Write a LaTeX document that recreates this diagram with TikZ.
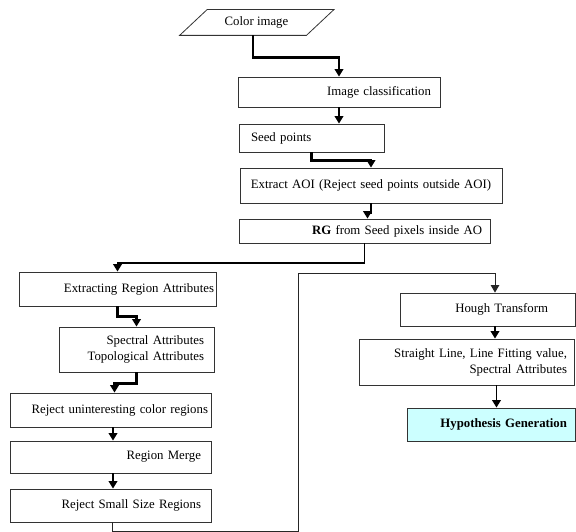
\documentclass[tikz,border=0pt]{standalone}
\usepackage{fontspec}
\setmainfont{Liberation Serif}
\usetikzlibrary{arrows.meta}
\definecolor{hypCyan}{HTML}{CCFFFF}
\tikzset{
    flowbox/.style={draw=black!80, line width=0.8pt, inner ysep=0pt, font=\fontsize{12.8}{16}\selectfont},
    heavyline/.style={-{Triangle[length=7.5pt,width=8.5pt]}, line width=2.4pt},
    midline/.style={-{Triangle[length=7.5pt,width=8.5pt]}, line width=1.9pt},
    thinline/.style={line width=1pt, draw=black!85}
}
\begin{document}
\begin{tikzpicture}[x=1pt, y=-1pt]
            \useasboundingbox (0,0) rectangle (576,532);

            % input: slanted box drawn round the text node
            \node[flowbox, draw=none, minimum width=126pt, minimum height=25pt, inner sep=0pt] (color) at (256.5,22.5) {Color image};
            \draw[draw=black!80, line width=0.8pt] ([xshift=14pt]color.north west) -- ([xshift=14pt]color.north east) -- ([xshift=-13.5pt]color.south east) -- ([xshift=-13.5pt]color.south west) -- cycle;

            \node[flowbox, minimum width=202pt, minimum height=30pt, text width=184pt, inner xsep=9pt, align=right] (cls) at (339,92) {Image classification};
            \node[flowbox, minimum width=145pt, minimum height=28pt, text width=121pt, inner xsep=12pt, align=left] (seed) at (311.5,138) {Seed points};
            \node[flowbox, minimum width=262pt, minimum height=35pt, text width=250pt, inner xsep=6pt, align=center] (aoi) at (371,185.5) {Extract AOI (Reject seed points outside AOI)};
            \node[flowbox, minimum width=251pt, minimum height=24pt, text width=235pt, inner xsep=8pt, align=right] (rg) at (364.5,231) {\textbf{RG} from Seed pixels inside AO};

            \node[flowbox, minimum width=197pt, minimum height=34pt, text width=193pt, inner xsep=2pt, align=right] (ext) at (117.5,289) {Extracting Region Attributes};
            \node[flowbox, minimum width=155pt, minimum height=45pt, text width=135pt, inner xsep=10pt, align=right] (spec) at (136.5,349.5) {Spectral Attributes\\Topological Attributes};
            \node[flowbox, minimum width=201pt, minimum height=34pt, text width=195pt, inner xsep=3pt, align=right] (rej1) at (110.5,410) {Reject uninteresting color regions};
            \node[flowbox, minimum width=201pt, minimum height=32pt, text width=181pt, inner xsep=10pt, align=right] (merge) at (110.5,457) {Region Merge};
            \node[flowbox, minimum width=201pt, minimum height=33pt, text width=181pt, inner xsep=10pt, align=right] (small) at (110.5,505.5) {Reject Small Size Regions};

            \node[flowbox, minimum width=175pt, minimum height=33pt, text width=121pt, inner xsep=27pt, align=right] (hough) at (487.5,309.5) {Hough Transform};
            \node[flowbox, minimum width=215pt, minimum height=46pt, text width=201pt, inner xsep=7pt, align=right] (straight) at (466.5,362) {Straight Line, Line Fitting value,\\Spectral Attributes};
            \node[flowbox, fill=hypCyan, minimum width=168pt, minimum height=33pt, text width=152pt, inner xsep=8pt, align=right] (hyp) at (491,424.5) {\textbf{Hypothesis Generation}};

            \draw[heavyline] ([xshift=-3.5pt]color.south) -- ++(0,22) -| (cls.north);
            \draw[midline] (cls.south) -- (cls.south |- seed.north);
            \draw[heavyline] (seed.south) -- ++(0,8) -| (aoi.north);
            \draw[heavyline] (aoi.south) -- ++(0,9) -| ([xshift=3pt]rg.north);
            \draw[midline] (rg.south) -- ++(0,20) -| (ext.north);
            \draw[heavyline] (ext.south) -- ++(0,10) -| (spec.north);
            \draw[heavyline] (spec.south) -- ++(0,11) -| ([xshift=4pt]rej1.north);
            \draw[midline] ([xshift=2.5pt]rej1.south) -- ([xshift=2.5pt]merge.north);
            \draw[midline] ([xshift=2.5pt]merge.south) -- ([xshift=2.5pt]small.north);

            \coordinate (loop) at (298,273);
            \draw[thinline, -{Triangle[length=7.5pt,width=8.5pt]}] ([xshift=1.5pt]small.south) -- ++(0,9) -| (loop) -| ([xshift=7.5pt]hough.north);
            \draw[midline] ([xshift=7.5pt]hough.south) -- ([xshift=7.5pt]hough.south |- straight.north);
            \draw[midline] ([xshift=5.5pt]hyp.north |- straight.south) -- ([xshift=5.5pt]hyp.north);
        \end{tikzpicture}
\end{document}
